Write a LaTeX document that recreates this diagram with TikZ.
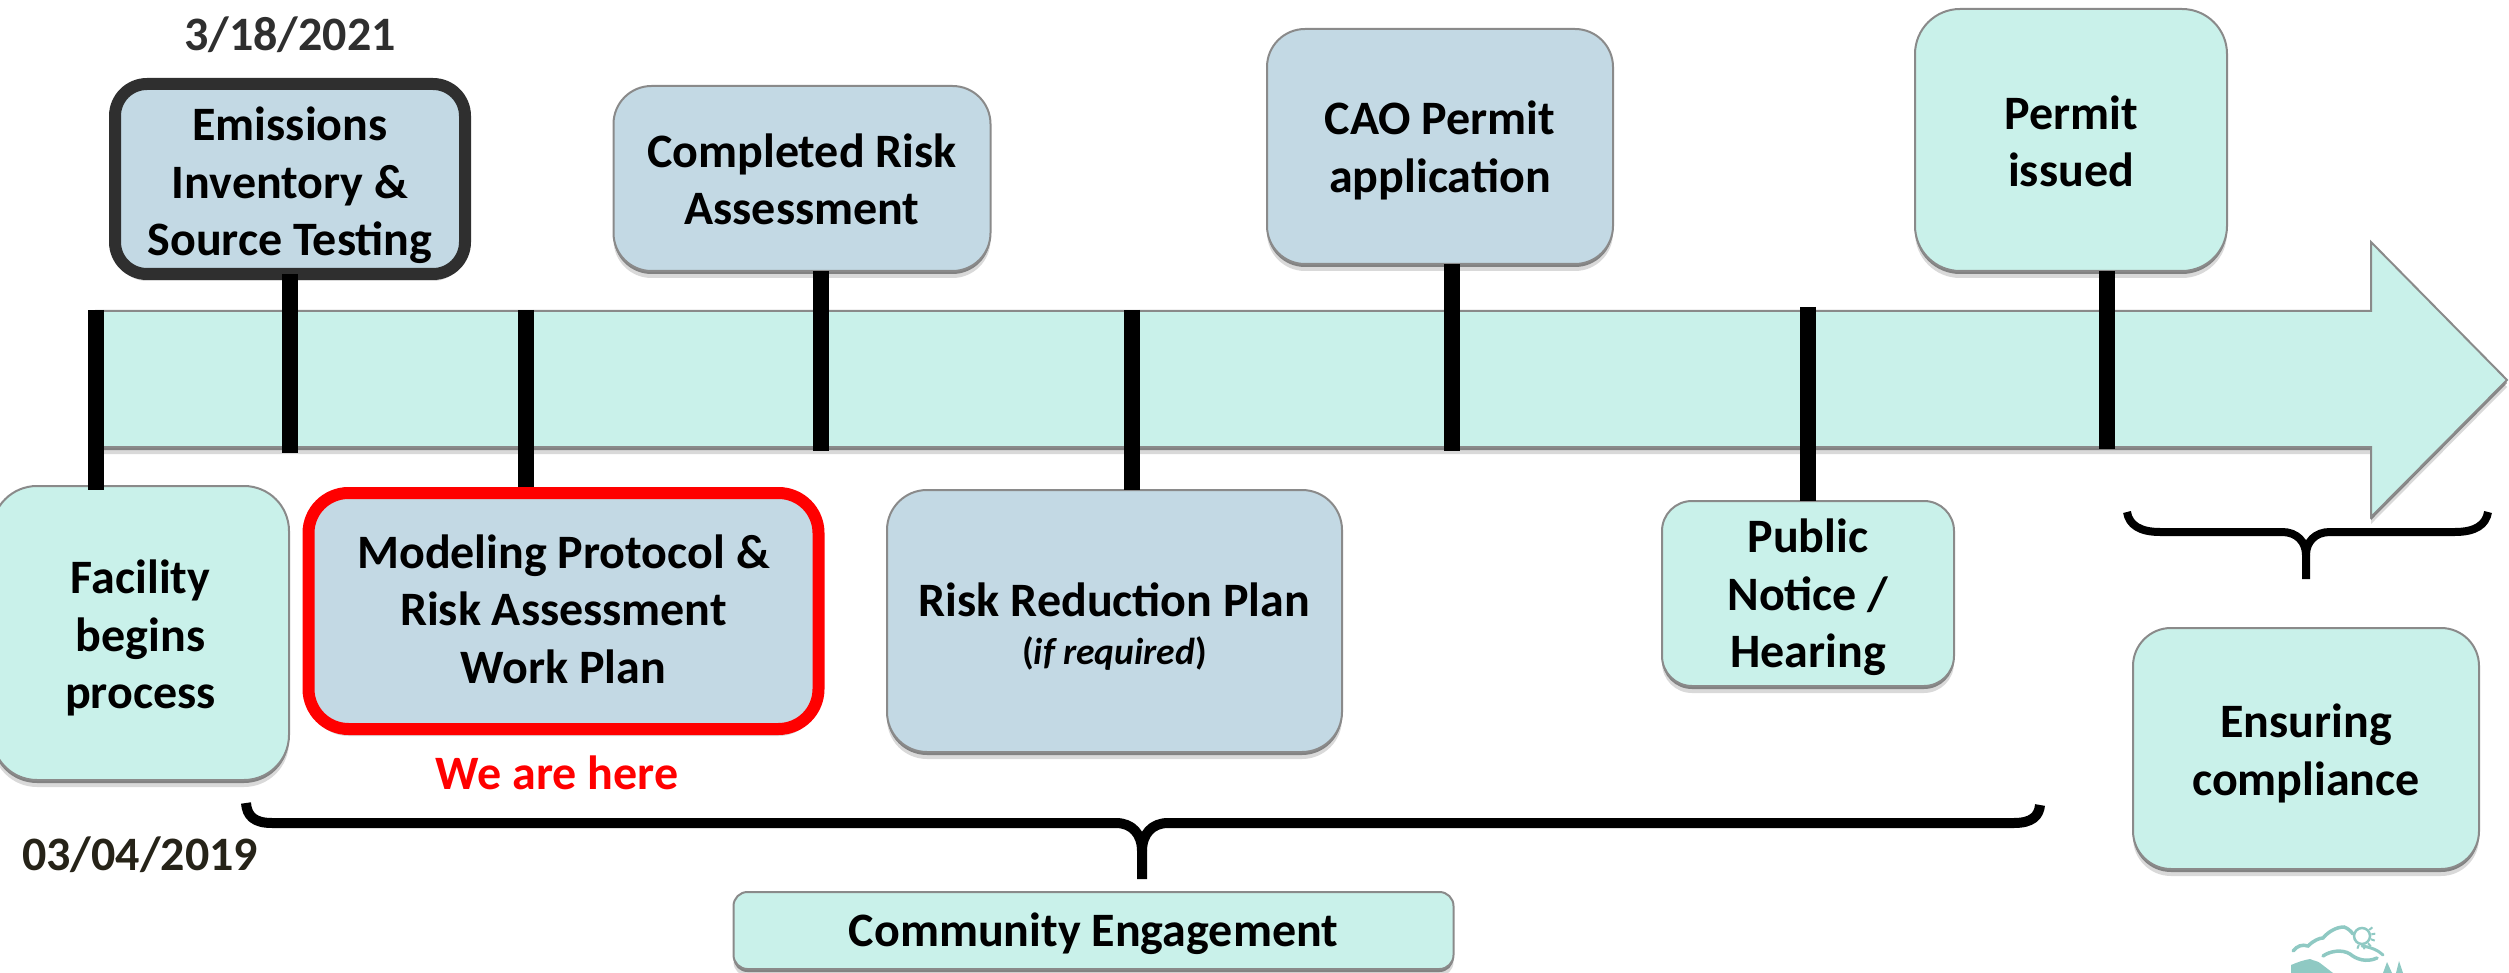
\documentclass[tikz,border=0pt]{standalone}
\usepackage{fontspec}
\setmainfont{Carlito}
\usetikzlibrary{shadows}
\definecolor{mint}{HTML}{C9F1EA}
\definecolor{paleblue}{HTML}{C3D9E4}
\definecolor{edgegray}{HTML}{8A8A8A}
\definecolor{darkedge}{HTML}{2F2F2F}
\definecolor{logoteal}{HTML}{8FC9C3}
\newcommand{\firstl}[1]{\rule{0pt}{\dimexpr 40.25pt+#1pt+#1pt\relax}}
\newcommand{\lastl}{\rule[-17.25pt]{0pt}{0pt}}
\tikzset{
  softshadow/.style={
    drop shadow={shadow xshift=0pt,shadow yshift=-3pt,opacity=.4,fill=black},
    drop shadow={shadow xshift=0pt,shadow yshift=-7pt,opacity=.15,fill=black}},
  boxbase/.style={shape=rectangle,draw=edgegray,line width=2pt,rounded corners=#1,
    softshadow,align=center,inner sep=0pt,outer sep=0pt,text=black,
    font=\fontsize{48}{57.5}\selectfont\bfseries},
  boxbase/.default=42pt,
  mintbox/.style={boxbase=#1,fill=mint},
  mintbox/.default=42pt,
  bluebox/.style={boxbase=#1,fill=paleblue},
  bluebox/.default=42pt,
  tickline/.style={draw=black,line width=16pt},
  bracepath/.style={draw=black,line join=round},
  caption/.style={anchor=base,inner sep=0pt,outer sep=0pt,font=\fontsize{48}{57.5}\selectfont\bfseries},
}
\begin{document}
\begin{tikzpicture}[x=1pt,y=-1pt]
\useasboundingbox (0,0) rectangle (2509,973);
% main arrow
\path[fill=mint,draw=edgegray,line width=2pt,softshadow]
  (96,311) -- (2371,311) -- (2371,242) -- (2507,380) -- (2371,517) -- (2371,447) -- (96,447) -- cycle;
% free tick ends
\coordinate (t1) at (96,310);
\coordinate (t2) at (290,453);
\coordinate (t3) at (525.5,310);
\coordinate (t4) at (821,451);
\coordinate (t5) at (1132,310);
\coordinate (t6) at (1452,451);
\coordinate (t7) at (1807.5,307);
\coordinate (t8) at (2107,449);
% boxes
\node[bluebox=32pt,draw=darkedge,line width=12pt,minimum width=350pt,minimum height=190pt] (emi) at (290,179)
  {\firstl{8}Emissions\\Inventory \&\\Source Testing\lastl};
\draw[tickline] (t2 |- emi.south) -- (t2);
\draw[tickline] (t3) -- (t3 |- 0,487);
\node[bluebox=38pt,minimum width=377pt,minimum height=185pt] (completed) at (802,178.5)
  {\firstl{6}Completed Risk\\Assessment\lastl};
\node[bluebox=38pt,minimum width=346pt,minimum height=235pt] (cao) at (1440,146.5)
  {\firstl{5.5}CAO Permit\\application\lastl};
\node[mintbox=45pt,minimum width=312pt,minimum height=262pt] (issued) at (2071,140)
  {\firstl{6.5}Permit\\issued\lastl};
\node[mintbox=45pt,minimum width=297pt,minimum height=294pt] (facility) at (140.5,633)
  {\firstl{6.5}Facility\\begins\\process\lastl};
\node[bluebox=40pt,draw=red,line width=12pt,minimum width=510pt,minimum height=236pt] (modeling) at (563.5,611)
  {\firstl{3}Modeling Protocol \&\\Risk Assessment\\Work Plan\lastl};
\node[bluebox=40pt,minimum width=455pt,minimum height=262pt] (reduction) at (1114.5,621)
  {\firstl{8}Risk Reduction Plan\\[-9.5pt]{\fontsize{37.5}{44}\selectfont(\textit{if required})}\lastl};
\node[mintbox=30pt,minimum width=292pt,minimum height=185pt] (public) at (1808,593.5)
  {\firstl{5}Public\\Notice /\\Hearing\lastl};
\node[mintbox=38pt,minimum width=346pt,minimum height=241pt] (ensuring) at (2306,748.5)
  {\firstl{6.5}Ensuring\\compliance\lastl};
\node[mintbox=14pt,minimum width=720pt,minimum height=77pt] (community) at (1093.5,930.5)
  {\firstl{4.5}Community Engagement\lastl};
% remaining ticks
\draw[tickline] (t1) -- ([yshift=-4pt]t1 |- facility.north);
\draw[tickline] (t4 |- completed.south) -- (t4);
\draw[tickline] (t5) -- (t5 |- reduction.north);
\draw[tickline] (t6 |- cao.south) -- (t6);
\draw[tickline] (t7) -- (t7 |- public.north);
\draw[tickline] (t8 |- issued.south) -- (t8);
% braces
\coordinate (bigL) at (246,803);
\coordinate (bigR) at (2040,805);
\coordinate (bigS) at (1142,879);
\path[bracepath,line width=10pt]
  (bigL) .. controls (247,816) and (254,823) .. (272,823) -- (1116,823)
  .. controls (1132,823) and (1142,834) .. (1142,851) -- (bigS);
\path[bracepath,line width=10pt]
  (bigR) .. controls (2039,816) and (2032,823) .. (2014,823) -- (1168,823)
  .. controls (1152,823) and (1142,834) .. (1142,851);
\coordinate (smallL) at (2127,512);
\coordinate (smallR) at (2488,512);
\coordinate (smallS) at (2306,579);
\path[bracepath,line width=8pt]
  (smallL) .. controls (2129,525) and (2140,532) .. (2160,532) -- (2282,532)
  .. controls (2297,532) and (2306,542) .. (2306,555) -- (smallS);
\path[bracepath,line width=8pt]
  (smallR) .. controls (2486,525) and (2475,532) .. (2455,532) -- (2330,532)
  .. controls (2315,532) and (2306,542) .. (2306,555);
% captions
\node[caption,text=darkedge] (date1) at (290,51) {3/18/2021};
\node[caption,text=red] (here) at (557,789) {We are here};
\node[caption,text={rgb,255:red,38;green,35;blue,24}] (date2) at (140,870) {03/04/2019};
% logo
\begin{scope}[logoteal]
\fill (2291,973) -- (2291,965) .. controls (2298,962) and (2304,960) .. (2310,959)
  .. controls (2314,961) and (2318,961) .. (2320,963) -- (2333,973) -- cycle;
\fill (2383,973) -- (2387,962) -- (2392,973) -- cycle;
\fill (2396,973) -- (2399,961) -- (2403,973) -- cycle;
\draw[line width=3.5pt,line cap=round]
  (2293,951) .. controls (2297,946) and (2302,944) .. (2308,946)
  .. controls (2314,940) and (2320,938) .. (2323,938)
  .. controls (2328,932) and (2336,927) .. (2344,927)
  .. controls (2347,928) and (2350,930) .. (2353,934);
\draw[line width=3.5pt,line cap=round]
  (2323,956) .. controls (2330,951) and (2342,949) .. (2350,954)
  .. controls (2356,959) and (2366,963) .. (2377,958);
\draw[line width=3pt,line cap=round]
  (2362,946) .. controls (2370,947) and (2378,950) .. (2383,955);
\draw[line width=2.5pt] (2362,936) circle (8pt);
\foreach \a in {-110,-80,-50,-20,10,40}
  \draw[line width=2pt] (2362,936) ++(\a:9.5pt) -- ++(\a:4pt);
\end{scope}
\end{tikzpicture}
\end{document}
